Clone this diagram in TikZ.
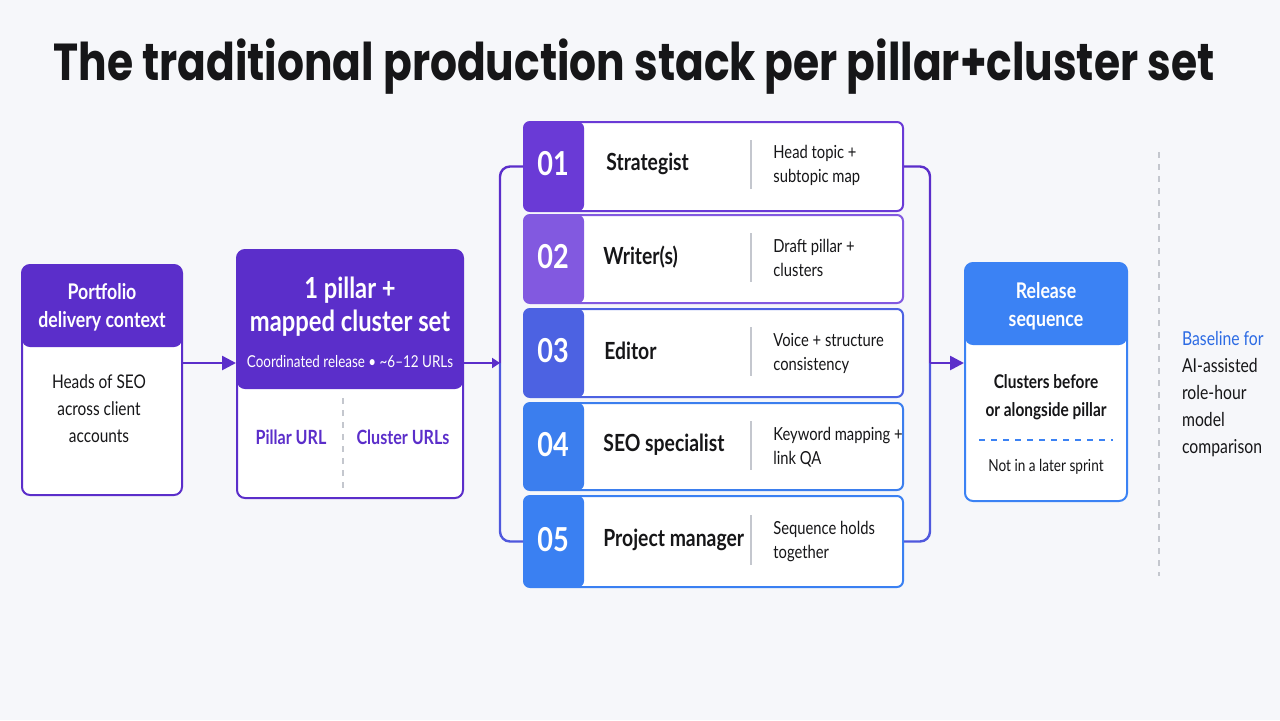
\documentclass[tikz,border=0pt]{standalone}
\usepackage{fontspec}
\setmainfont{Lato}[FakeStretch=0.82]
\newfontfamily\titlefont{Poppins}
\usetikzlibrary{arrows.meta,positioning,calc}

\definecolor{bgc}{HTML}{F6F7FA}
\definecolor{hdpurple}{HTML}{5B2ECA}
\definecolor{rowa}{HTML}{6A3AD6}
\definecolor{rowb}{HTML}{8259E0}
\definecolor{rowc}{HTML}{4C62E2}
\definecolor{rowd}{HTML}{3B7EEE}
\definecolor{rowe}{HTML}{3A80F2}
\definecolor{relblue}{HTML}{3B82F4}
\definecolor{noteblue}{HTML}{2C6BE4}
\definecolor{ink}{HTML}{161618}
\definecolor{divgray}{HTML}{C4C7CE}

\tikzset{
  card/.style={draw, fill=white, line width=1pt, rounded corners=4pt, inner sep=0pt},
  headtxt/.style={text=white, font=\bfseries\fontsize{10.8}{14}\selectfont, align=center},
  bodytxt/.style={text=ink, font=\fontsize{9.4}{13.5}\selectfont, align=center},
  rowbox/.style={draw, fill=white, line width=1pt, rounded corners=3pt, inner sep=0pt, minimum width=189.5pt},
  numtxt/.style={text=white, font=\bfseries\fontsize{16.5}{18}\selectfont},
  roletxt/.style={text=ink, anchor=west, inner sep=0pt, font=\bfseries\fontsize{11.8}{14}\selectfont},
  desctxt/.style={text=ink, anchor=west, inner sep=0pt, align=left, font=\fontsize{9}{12}\selectfont},
  sepline/.style={divgray, line width=0.6pt},
  flow/.style={hdpurple, line width=1.3pt, -{Triangle[length=7pt,width=7pt]}}
}

\begin{document}
\begin{tikzpicture}[x=0.5pt,y=-0.5pt]
    \fill[bgc] (0,0) rectangle (1280,720);
    \useasboundingbox (0,0) rectangle (1280,720);

    % title
    \node[text=ink] (title) at (634,67) {\scalebox{0.815}[1]{\titlefont\bfseries\fontsize{26}{32}\selectfont The traditional production stack per pillar+cluster set}};

    % portfolio context
    \node[card, draw=hdpurple, minimum width=80pt, minimum height=115pt,
      path picture={\fill[hdpurple] (path picture bounding box.north west) rectangle ([yshift=-41pt]path picture bounding box.north east);}]
      (ctx) at (102,380) {};
    \node[headtxt] (ctxhead) at (102,307) {Portfolio\\delivery context};
    \node[bodytxt] (ctxbody) at (99,409) {Heads of SEO\\across client\\accounts};

    % pillar + cluster set
    \node[card, draw=hdpurple, minimum width=113pt, minimum height=124pt,
      path picture={\fill[hdpurple] (path picture bounding box.north west) rectangle ([yshift=-69.5pt]path picture bounding box.north east);}]
      (set) at (350,374) {};
    \node[text=white, font=\bfseries\fontsize{14.5}{16.5}\selectfont, align=center] (sethead) at (350,307) {1 pillar +\\mapped cluster set};
    \node[text=white, font=\fontsize{8.2}{10}\selectfont] (setsub) at (350,362) {Coordinated release \textbullet{} \textasciitilde6--12 URLs};
    \draw[divgray, line width=0.8pt, dashed] (343,398) -- (343,488);
    \node[text=hdpurple, font=\bfseries\fontsize{9.8}{12}\selectfont] (pillar) at (291,437) {Pillar URL};
    \node[text=hdpurple, font=\bfseries\fontsize{9.8}{12}\selectfont] (cluster) at (403,437) {Cluster URLs};

    % role stack
    \node[rowbox, draw=rowa, minimum height=44.5pt,
      path picture={\fill[rowa] (path picture bounding box.north west) rectangle ([xshift=30pt]path picture bounding box.south west);}]
      (row1) at (713.5,166.5) {};
    \node[rowbox, draw=rowb, minimum height=44pt,
      path picture={\fill[rowb] (path picture bounding box.north west) rectangle ([xshift=30pt]path picture bounding box.south west);}]
      (row2) at (713.5,259) {};
    \node[rowbox, draw=rowc, minimum height=44pt,
      path picture={\fill[rowc] (path picture bounding box.north west) rectangle ([xshift=30pt]path picture bounding box.south west);}]
      (row3) at (713.5,353) {};
    \node[rowbox, draw=rowd, minimum height=43.5pt,
      path picture={\fill[rowd] (path picture bounding box.north west) rectangle ([xshift=30pt]path picture bounding box.south west);}]
      (row4) at (713.5,446.5) {};
    \node[rowbox, draw=rowe, minimum height=45.5pt,
      path picture={\fill[rowe] (path picture bounding box.north west) rectangle ([xshift=30pt]path picture bounding box.south west);}]
      (row5) at (713.5,541.5) {};

    % 01
    \node[numtxt] (num1) at (553,164) {01};
    \node[roletxt] (role1) at (606,164) {Strategist};
    \draw[sepline] (751,140) -- (751,189);
    \node[desctxt] (desc1) at (773,165) {Head topic +\\subtopic map};
    % 02
    \node[numtxt] (num2) at (553,257) {02};
    \node[roletxt] (role2) at (603,257) {Writer(s)};
    \draw[sepline] (751,233) -- (751,282);
    \node[desctxt] (desc2) at (773,258) {Draft pillar +\\clusters};
    % 03
    \node[numtxt] (num3) at (553,351) {03};
    \node[roletxt] (role3) at (604,351) {Editor};
    \draw[sepline] (751,327) -- (751,376);
    \node[desctxt] (desc3) at (773,353) {Voice + structure\\consistency};
    % 04
    \node[numtxt] (num4) at (553,445) {04};
    \node[roletxt] (role4) at (603,445) {SEO specialist};
    \draw[sepline] (751,421) -- (751,470);
    \node[desctxt] (desc4) at (773,447) {Keyword mapping +\\link QA};
    % 05
    \node[numtxt] (num5) at (553,540) {05};
    \node[roletxt] (role5) at (603,540) {Project manager};
    \draw[sepline] (751,515) -- (751,565);
    \node[desctxt] (desc5) at (773,541) {Sequence holds\\together};

    % brackets round the stack
    \coordinate (mid) at (0,363);
    \coordinate (lj) at (500,363);
    \coordinate (rj) at (930,363);
    \draw[hdpurple, line width=1.2pt, rounded corners=5pt] (row1.west) -| (lj);
    \draw[rowc!80!hdpurple, line width=1.2pt, rounded corners=5pt] (lj) |- (row5.west);
    \draw[hdpurple, line width=1.2pt, rounded corners=5pt] (row1.east) -| (rj);
    \draw[rowc!80!hdpurple, line width=1.2pt, rounded corners=5pt] (rj) |- (row5.east);

    % release sequence
    \node[card, draw=relblue, minimum width=81pt, minimum height=119pt,
      path picture={\fill[relblue] (path picture bounding box.north west) rectangle ([yshift=-41pt]path picture bounding box.north east);}]
      (rel) at (1046,382) {};
    \node[headtxt] (relhead) at (1046,306) {Release\\sequence};
    \node[bodytxt, font=\bfseries\fontsize{9.4}{14}\selectfont] (relbody) at (1046,397) {Clusters before\\or alongside pillar};
    \draw[relblue, line width=0.8pt, dashed] (979,440) -- (1113,440);
    \node[bodytxt, font=\fontsize{8.3}{10}\selectfont] (relnote) at (1046,467) {Not in a later sprint};

    % connectors
    \draw[flow] (ctx.east |- mid) -- (set.west |- mid);
    \draw[hdpurple, line width=1.3pt, -{Triangle[length=4pt,width=5pt]}] (set.east |- mid) -- (lj);
    \draw[flow] (rj) -- (rel.west |- mid);

    % side note
    \draw[divgray, line width=0.8pt, dashed] (1159,152) -- (1159,576);
    \node[anchor=north west, align=left, text=ink, font=\fontsize{9.6}{13.5}\selectfont] (note) at (1175,324)
      {\textcolor{noteblue}{Baseline for}\\AI-assisted\\role-hour\\model\\comparison};
\end{tikzpicture}
\end{document}
